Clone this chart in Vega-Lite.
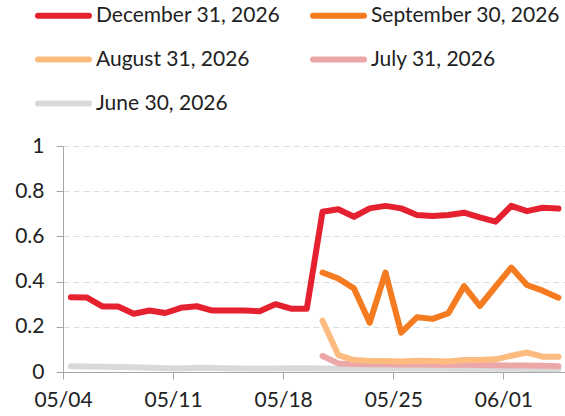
{
  "$schema": "https://vega.github.io/schema/vega-lite/v6.json",
  "width": 502,
  "height": 226,
  "autosize": {"type": "none"},
  "padding": {"left": 63, "top": 146, "right": 0, "bottom": 44},
  "background": "white",
  "config": {
    "font": "Lato",
    "view": {"stroke": null},
    "axis": {"labelFont": "Lato", "labelFontSize": 21, "labelColor": "#222222", "domainColor": "#a6a6a6", "tickColor": "#a6a6a6", "tickSize": 7, "title": null}
  },
  "data": {
    "values": [
      {"series": "June 30, 2026", "date": "2026-05-04T12:00Z", "value": 0.025},
      {"series": "June 30, 2026", "date": "2026-05-05T12:00Z", "value": 0.024},
      {"series": "June 30, 2026", "date": "2026-05-06T12:00Z", "value": 0.023},
      {"series": "June 30, 2026", "date": "2026-05-07T12:00Z", "value": 0.022},
      {"series": "June 30, 2026", "date": "2026-05-08T12:00Z", "value": 0.021},
      {"series": "June 30, 2026", "date": "2026-05-09T12:00Z", "value": 0.019},
      {"series": "June 30, 2026", "date": "2026-05-10T12:00Z", "value": 0.017},
      {"series": "June 30, 2026", "date": "2026-05-11T12:00Z", "value": 0.016},
      {"series": "June 30, 2026", "date": "2026-05-12T12:00Z", "value": 0.019},
      {"series": "June 30, 2026", "date": "2026-05-13T12:00Z", "value": 0.018},
      {"series": "June 30, 2026", "date": "2026-05-14T12:00Z", "value": 0.017},
      {"series": "June 30, 2026", "date": "2026-05-15T12:00Z", "value": 0.016},
      {"series": "June 30, 2026", "date": "2026-05-16T12:00Z", "value": 0.016},
      {"series": "June 30, 2026", "date": "2026-05-17T12:00Z", "value": 0.016},
      {"series": "June 30, 2026", "date": "2026-05-18T12:00Z", "value": 0.017},
      {"series": "June 30, 2026", "date": "2026-05-19T12:00Z", "value": 0.017},
      {"series": "June 30, 2026", "date": "2026-05-20T12:00Z", "value": 0.016},
      {"series": "June 30, 2026", "date": "2026-05-21T12:00Z", "value": 0.016},
      {"series": "June 30, 2026", "date": "2026-05-22T12:00Z", "value": 0.016},
      {"series": "June 30, 2026", "date": "2026-05-23T12:00Z", "value": 0.015},
      {"series": "June 30, 2026", "date": "2026-05-24T12:00Z", "value": 0.015},
      {"series": "June 30, 2026", "date": "2026-05-25T12:00Z", "value": 0.015},
      {"series": "June 30, 2026", "date": "2026-05-26T12:00Z", "value": 0.015},
      {"series": "June 30, 2026", "date": "2026-05-27T12:00Z", "value": 0.015},
      {"series": "June 30, 2026", "date": "2026-05-28T12:00Z", "value": 0.015},
      {"series": "June 30, 2026", "date": "2026-05-29T12:00Z", "value": 0.014},
      {"series": "June 30, 2026", "date": "2026-05-30T12:00Z", "value": 0.014},
      {"series": "June 30, 2026", "date": "2026-05-31T12:00Z", "value": 0.014},
      {"series": "June 30, 2026", "date": "2026-06-01T12:00Z", "value": 0.014},
      {"series": "June 30, 2026", "date": "2026-06-02T12:00Z", "value": 0.013},
      {"series": "June 30, 2026", "date": "2026-06-03T12:00Z", "value": 0.013},
      {"series": "June 30, 2026", "date": "2026-06-04T12:00Z", "value": 0.012},
      {"series": "July 31, 2026", "date": "2026-05-20T12:00Z", "value": 0.071},
      {"series": "July 31, 2026", "date": "2026-05-21T12:00Z", "value": 0.038},
      {"series": "July 31, 2026", "date": "2026-05-22T12:00Z", "value": 0.035},
      {"series": "July 31, 2026", "date": "2026-05-23T12:00Z", "value": 0.034},
      {"series": "July 31, 2026", "date": "2026-05-24T12:00Z", "value": 0.034},
      {"series": "July 31, 2026", "date": "2026-05-25T12:00Z", "value": 0.033},
      {"series": "July 31, 2026", "date": "2026-05-26T12:00Z", "value": 0.033},
      {"series": "July 31, 2026", "date": "2026-05-27T12:00Z", "value": 0.032},
      {"series": "July 31, 2026", "date": "2026-05-28T12:00Z", "value": 0.032},
      {"series": "July 31, 2026", "date": "2026-05-29T12:00Z", "value": 0.032},
      {"series": "July 31, 2026", "date": "2026-05-30T12:00Z", "value": 0.031},
      {"series": "July 31, 2026", "date": "2026-05-31T12:00Z", "value": 0.030},
      {"series": "July 31, 2026", "date": "2026-06-01T12:00Z", "value": 0.029},
      {"series": "July 31, 2026", "date": "2026-06-02T12:00Z", "value": 0.029},
      {"series": "July 31, 2026", "date": "2026-06-03T12:00Z", "value": 0.028},
      {"series": "July 31, 2026", "date": "2026-06-04T12:00Z", "value": 0.026},
      {"series": "August 31, 2026", "date": "2026-05-20T12:00Z", "value": 0.227},
      {"series": "August 31, 2026", "date": "2026-05-21T12:00Z", "value": 0.075},
      {"series": "August 31, 2026", "date": "2026-05-22T12:00Z", "value": 0.053},
      {"series": "August 31, 2026", "date": "2026-05-23T12:00Z", "value": 0.049},
      {"series": "August 31, 2026", "date": "2026-05-24T12:00Z", "value": 0.049},
      {"series": "August 31, 2026", "date": "2026-05-25T12:00Z", "value": 0.046},
      {"series": "August 31, 2026", "date": "2026-05-26T12:00Z", "value": 0.050},
      {"series": "August 31, 2026", "date": "2026-05-27T12:00Z", "value": 0.049},
      {"series": "August 31, 2026", "date": "2026-05-28T12:00Z", "value": 0.046},
      {"series": "August 31, 2026", "date": "2026-05-29T12:00Z", "value": 0.053},
      {"series": "August 31, 2026", "date": "2026-05-30T12:00Z", "value": 0.053},
      {"series": "August 31, 2026", "date": "2026-05-31T12:00Z", "value": 0.056},
      {"series": "August 31, 2026", "date": "2026-06-01T12:00Z", "value": 0.072},
      {"series": "August 31, 2026", "date": "2026-06-02T12:00Z", "value": 0.086},
      {"series": "August 31, 2026", "date": "2026-06-03T12:00Z", "value": 0.068},
      {"series": "August 31, 2026", "date": "2026-06-04T12:00Z", "value": 0.068},
      {"series": "September 30, 2026", "date": "2026-05-20T12:00Z", "value": 0.44},
      {"series": "September 30, 2026", "date": "2026-05-21T12:00Z", "value": 0.414},
      {"series": "September 30, 2026", "date": "2026-05-22T12:00Z", "value": 0.37},
      {"series": "September 30, 2026", "date": "2026-05-23T12:00Z", "value": 0.218},
      {"series": "September 30, 2026", "date": "2026-05-24T12:00Z", "value": 0.44},
      {"series": "September 30, 2026", "date": "2026-05-25T12:00Z", "value": 0.174},
      {"series": "September 30, 2026", "date": "2026-05-26T12:00Z", "value": 0.242},
      {"series": "September 30, 2026", "date": "2026-05-27T12:00Z", "value": 0.235},
      {"series": "September 30, 2026", "date": "2026-05-28T12:00Z", "value": 0.26},
      {"series": "September 30, 2026", "date": "2026-05-29T12:00Z", "value": 0.38},
      {"series": "September 30, 2026", "date": "2026-05-30T12:00Z", "value": 0.292},
      {"series": "September 30, 2026", "date": "2026-05-31T12:00Z", "value": 0.378},
      {"series": "September 30, 2026", "date": "2026-06-01T12:00Z", "value": 0.462},
      {"series": "September 30, 2026", "date": "2026-06-02T12:00Z", "value": 0.385},
      {"series": "September 30, 2026", "date": "2026-06-03T12:00Z", "value": 0.36},
      {"series": "September 30, 2026", "date": "2026-06-04T12:00Z", "value": 0.329},
      {"series": "December 31, 2026", "date": "2026-05-04T12:00Z", "value": 0.331},
      {"series": "December 31, 2026", "date": "2026-05-05T12:00Z", "value": 0.33},
      {"series": "December 31, 2026", "date": "2026-05-06T12:00Z", "value": 0.29},
      {"series": "December 31, 2026", "date": "2026-05-07T12:00Z", "value": 0.29},
      {"series": "December 31, 2026", "date": "2026-05-08T12:00Z", "value": 0.258},
      {"series": "December 31, 2026", "date": "2026-05-09T12:00Z", "value": 0.272},
      {"series": "December 31, 2026", "date": "2026-05-10T12:00Z", "value": 0.261},
      {"series": "December 31, 2026", "date": "2026-05-11T12:00Z", "value": 0.284},
      {"series": "December 31, 2026", "date": "2026-05-12T12:00Z", "value": 0.291},
      {"series": "December 31, 2026", "date": "2026-05-13T12:00Z", "value": 0.272},
      {"series": "December 31, 2026", "date": "2026-05-14T12:00Z", "value": 0.272},
      {"series": "December 31, 2026", "date": "2026-05-15T12:00Z", "value": 0.272},
      {"series": "December 31, 2026", "date": "2026-05-16T12:00Z", "value": 0.269},
      {"series": "December 31, 2026", "date": "2026-05-17T12:00Z", "value": 0.30},
      {"series": "December 31, 2026", "date": "2026-05-18T12:00Z", "value": 0.28},
      {"series": "December 31, 2026", "date": "2026-05-19T12:00Z", "value": 0.28},
      {"series": "December 31, 2026", "date": "2026-05-20T12:00Z", "value": 0.709},
      {"series": "December 31, 2026", "date": "2026-05-21T12:00Z", "value": 0.72},
      {"series": "December 31, 2026", "date": "2026-05-22T12:00Z", "value": 0.687},
      {"series": "December 31, 2026", "date": "2026-05-23T12:00Z", "value": 0.724},
      {"series": "December 31, 2026", "date": "2026-05-24T12:00Z", "value": 0.735},
      {"series": "December 31, 2026", "date": "2026-05-25T12:00Z", "value": 0.724},
      {"series": "December 31, 2026", "date": "2026-05-26T12:00Z", "value": 0.695},
      {"series": "December 31, 2026", "date": "2026-05-27T12:00Z", "value": 0.69},
      {"series": "December 31, 2026", "date": "2026-05-28T12:00Z", "value": 0.695},
      {"series": "December 31, 2026", "date": "2026-05-29T12:00Z", "value": 0.705},
      {"series": "December 31, 2026", "date": "2026-05-30T12:00Z", "value": 0.684},
      {"series": "December 31, 2026", "date": "2026-05-31T12:00Z", "value": 0.665},
      {"series": "December 31, 2026", "date": "2026-06-01T12:00Z", "value": 0.735},
      {"series": "December 31, 2026", "date": "2026-06-02T12:00Z", "value": 0.712},
      {"series": "December 31, 2026", "date": "2026-06-03T12:00Z", "value": 0.727},
      {"series": "December 31, 2026", "date": "2026-06-04T12:00Z", "value": 0.723}
    ]
  },
  "mark": {"type": "line", "strokeWidth": 6, "strokeCap": "round", "strokeJoin": "round", "clip": false},
  "encoding": {
    "x": {
      "field": "date",
      "type": "temporal",
      "scale": {
        "type": "utc",
        "domain": [
          {"year": 2026, "month": 5, "date": 4, "utc": true},
          {"year": 2026, "month": 6, "date": 4, "hours": 22, "utc": true}
        ]
      },
      "axis": {
        "values": [
          {"year": 2026, "month": 5, "date": 4, "utc": true},
          {"year": 2026, "month": 5, "date": 11, "utc": true},
          {"year": 2026, "month": 5, "date": 18, "utc": true},
          {"year": 2026, "month": 5, "date": 25, "utc": true},
          {"year": 2026, "month": 6, "date": 1, "utc": true}
        ],
        "format": "%m/%d",
        "grid": false,
        "labelPadding": 10,
        "labelDx": 8,
        "labelFlush": false,
        "labelOverlap": false
      }
    },
    "y": {
      "field": "value",
      "type": "quantitative",
      "scale": {"domain": [0, 1], "nice": false},
      "axis": {
        "values": [0, 0.2, 0.4, 0.6, 0.8, 1],
        "format": "~g",
        "grid": true,
        "gridColor": "#dddddd",
        "gridDash": [6, 4],
        "gridWidth": 1,
        "labelPadding": 12
      }
    },
    "color": {
      "field": "series",
      "type": "nominal",
      "scale": {
        "domain": ["December 31, 2026", "September 30, 2026", "August 31, 2026", "July 31, 2026", "June 30, 2026"],
        "range": ["#e6212f", "#f47b20", "#fdbb7f", "#eca7a8", "#d9d9d9"]
      },
      "sort": null,
      "legend": {
        "orient": "none",
        "direction": "horizontal",
        "legendX": -25,
        "legendY": -142,
        "title": null,
        "columns": 2,
        "padding": 0,
        "symbolType": "M-3,0H3",
        "symbolSize": 289,
        "symbolStrokeWidth": 6,
        "symbolOffset": 14,
        "labelOffset": 21,
        "labelFont": "Lato",
        "labelFontSize": 21,
        "labelColor": "#222222",
        "labelLimit": 400,
        "rowPadding": 19,
        "columnPadding": 20,
        "encode": {"symbols": {"update": {"strokeCap": {"value": "round"}}}}
      }
    }
  }
}
